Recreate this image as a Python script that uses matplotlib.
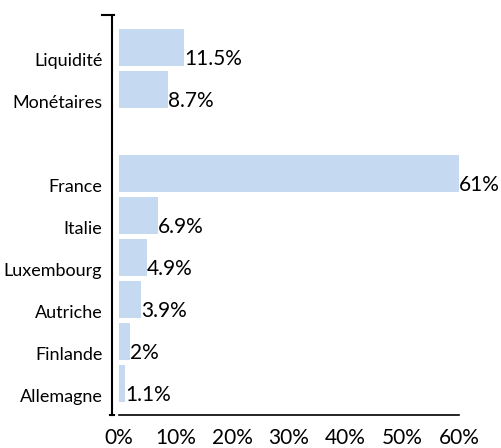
import numpy as np
import matplotlib.pyplot as plt

# Data (top to bottom, blank row between the two groups)
categories = ["Liquidité", "Monétaires", "", "France", "Italie",
              "Luxembourg", "Autriche", "Finlande", "Allemagne"]
values = [11.5, 8.7, None, 61, 6.9, 4.9, 3.9, 2, 1.1]
labels = ["11.5%", "8.7%", "", "61%", "6.9%", "4.9%", "3.9%", "2%", "1.1%"]
xticks = [0, 10, 20, 30, 40, 50, 60]

plt.rcParams['font.family'] = ['Lato', 'DejaVu Sans']

fig = plt.figure(figsize=(5.01, 4.48), dpi=100)
ax = fig.add_axes([119/501, 33/448, 340/501, 400/448])

barColor = "#C5D9F1"
xmax = 60

# Drawing the bars and their value labels
for i, (v, lab) in enumerate(zip(values, labels)):
    if v is None:
        continue
    ax.barh(i, v, height=0.88, color=barColor)
    ax.text(min(v, xmax), i + 0.27, lab, ha="left", va="center", fontsize=15)

ax.set_xlim(0, xmax)
ax.set_ylim(len(categories) - 0.25, -0.77)

# Tick labels sit a little below the bar centre
shown = [i for i, c in enumerate(categories) if c]
ax.set_yticks([i + 0.29 for i in shown])
ax.set_yticklabels([categories[i] for i in shown])
ax.tick_params(axis="y", length=0, pad=7, labelsize=13)

ax.set_xticks(xticks)
ax.set_xticklabels([f"{t}%" for t in xticks])
ax.set_xticks([0, xmax], minor=True)
ax.tick_params(axis="x", which="major", length=0, pad=9, labelsize=15)
ax.tick_params(axis="x", which="minor", length=11, width=1.2, direction="out")

# Axis lines
for side in ["top", "right"]:
    ax.spines[side].set_visible(False)
ax.spines["left"].set_position(("outward", 5))
ax.spines["left"].set_linewidth(1.5)
ax.spines["bottom"].set_linewidth(1.2)

# Caps at the ends of the vertical axis
trans = ax.transAxes
dx = 5 / 340
ax.plot([-dx - 12/340, -dx], [1, 1], color="black", lw=1.5, transform=trans, clip_on=False)
ax.plot([-dx - 4/340, -dx], [0, 0], color="black", lw=1.5, transform=trans, clip_on=False)

fig.savefig("out.png", dpi=100)
